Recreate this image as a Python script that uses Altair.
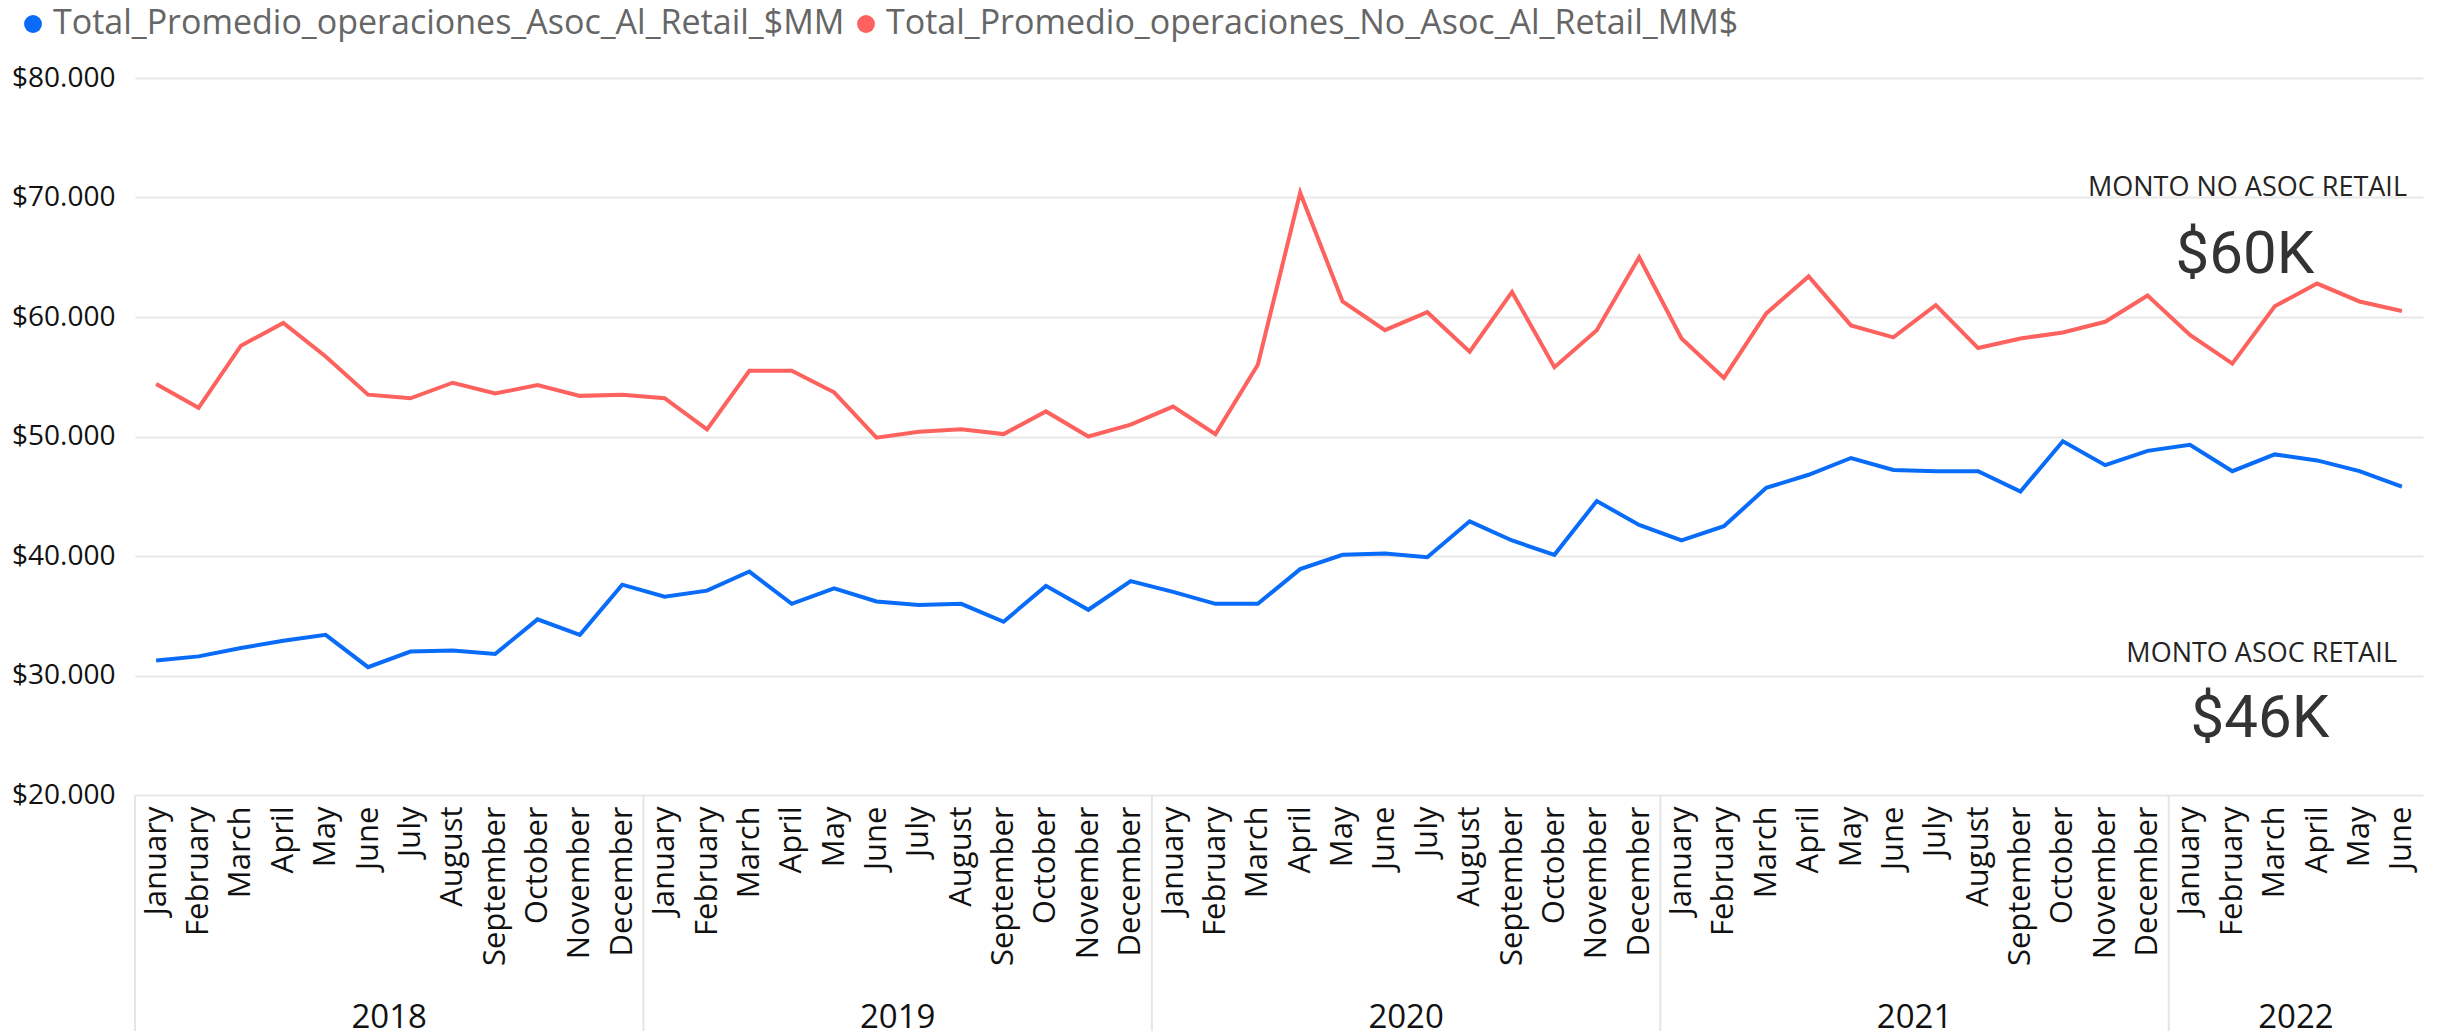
import altair as alt
import pandas as pd

# ---------------- data ----------------
MONTHS = ["January", "February", "March", "April", "May", "June", "July",
          "August", "September", "October", "November", "December"]
YEARS = [2018, 2019, 2020, 2021, 2022]
MONTHS_PER_YEAR = [12, 12, 12, 12, 6]

SERIES_ASOC = "Total_Promedio_operaciones_Asoc_Al_Retail_$MM"
SERIES_NO_ASOC = "Total_Promedio_operaciones_No_Asoc_Al_Retail_MM$"

asoc = [31250, 31600, 32300, 32900, 33400, 30700, 32000, 32100, 31800, 34700, 33400, 37600,
        36600, 37100, 38700, 36000, 37300, 36200, 35900, 36000, 34500, 37500, 35500, 37900,
        37000, 36000, 36000, 38900, 40100, 40200, 39900, 42900, 41300, 40100, 44600, 42600,
        41300, 42500, 45700, 46800, 48200, 47200, 47100, 47100, 45400, 49600, 47600, 48800,
        49300, 47100, 48500, 48000, 47100, 45800]

no_asoc = [54400, 52400, 57600, 59500, 56700, 53500, 53200, 54500, 53600, 54300, 53400, 53500,
           53200, 50600, 55500, 55500, 53700, 49900, 50400, 50600, 50200, 52100, 50000, 51000,
           52500, 50200, 56000, 70400, 61300, 58900, 60400, 57100, 62100, 55800, 58900, 65000,
           58200, 54900, 60300, 63400, 59300, 58300, 61000, 57400, 58200, 58700, 59600, 61800,
           58500, 56100, 60900, 62800, 61300, 60500]

Y_TICKS = [20000, 30000, 40000, 50000, 60000, 70000, 80000]

CARD_TITLES = ["MONTO NO ASOC RETAIL", "MONTO ASOC RETAIL"]
CARD_VALUES = ["$60K", "$46K"]

COLORS = ["#086CF8", "#FD625E"]

# ---------------- build tables ----------------
rows = []
idx = 0
year_rows = []
sep_rows = []
for y, n in zip(YEARS, MONTHS_PER_YEAR):
    start = idx
    sep_rows.append({"pos": start - 0.5})
    for m in range(n):
        rows.append({"idx": idx, "month": MONTHS[m], "year": y,
                     "series": SERIES_ASOC, "value": asoc[idx]})
        rows.append({"idx": idx, "month": MONTHS[m], "year": y,
                     "series": SERIES_NO_ASOC, "value": no_asoc[idx]})
        idx += 1
    year_rows.append({"year": str(y), "center": (start + idx - 1) / 2})
N = idx

df = pd.DataFrame(rows)
df["legend_series"] = df["series"]
years_df = pd.DataFrame(year_rows)
sep_df = pd.DataFrame(sep_rows)

W, H = 2288, 717
FONT = "Open Sans"

month_expr = "[" + ",".join("'%s'" % m for m in MONTHS) + "][datum.value % 12]"

x_scale = alt.Scale(domain=[-0.5, N - 0.5], nice=False, zero=False)
y_scale = alt.Scale(domain=[20000, 80000], nice=False, zero=False)
color_scale = alt.Scale(domain=[SERIES_ASOC, SERIES_NO_ASOC], range=COLORS)
# data-driven domain (alphabetical order = same order as above)
fill_scale = alt.Scale(range=COLORS)

x_enc = alt.X("idx:Q", scale=x_scale, title=None,
              axis=alt.Axis(values=list(range(N)), labelExpr=month_expr,
                            labelAngle=270, labelFontSize=31, labelFont=FONT,
                            labelColor="#111111", labelPadding=11,
                            labelOverlap=False, labelFlush=False, labelBound=False,
                            ticks=False, domain=False, grid=False))
y_enc = alt.Y("value:Q", scale=y_scale, title=None,
              axis=alt.Axis(values=Y_TICKS,
                            labelExpr="'$' + replace(format(datum.value, ',.0f'), ',', '.')",
                            labelFontSize=28, labelFont=FONT, labelColor="#111111",
                            labelPadding=20, ticks=False, domain=False,
                            grid=True, gridColor="#e8e8e8", gridWidth=2))

base = alt.Chart(df)

lines = base.mark_line(strokeWidth=4).encode(
    x=x_enc, y=y_enc,
    color=alt.Color("series:N", scale=color_scale, legend=None),
    order="idx:Q",
)

legend_pts = base.mark_circle(size=1, opacity=1).encode(
    x=alt.X("idx:Q", scale=x_scale),
    y=alt.Y("value:Q", scale=y_scale),
    fill=alt.Fill("legend_series:N", scale=fill_scale, title=None,
                  legend=alt.Legend(orient="none", legendX=-119, legendY=-71,
                                    direction="horizontal", symbolType="circle",
                                    symbolSize=320, symbolOpacity=1,
                                    symbolStrokeWidth=0,
                                    labelFont=FONT, labelFontSize=34,
                                    labelColor="#666666", labelLimit=3000,
                                    labelOffset=3, columnPadding=4, padding=0)),
)

years_layer = alt.Chart(years_df).mark_text(
    font=FONT, fontSize=33, color="#111111", align="center", baseline="alphabetic"
).encode(
    x=alt.X("center:Q", scale=x_scale),
    y=alt.value(H + 233),
    text="year:N",
)

seps = alt.Chart(sep_df).mark_rule(color="#e5e5e5", strokeWidth=2).encode(
    x=alt.X("pos:Q", scale=x_scale),
    y=alt.value(H),
    y2=alt.value(H + 250),
)

cards_df = pd.DataFrame({"title": CARD_TITLES, "value": CARD_VALUES,
                         "tx": [2272, 2262], "ty": [118, 584],
                         "vx": [2110, 2125], "vy": [195, 659]})

card_titles = alt.Chart(cards_df).mark_text(
    font=FONT, fontSize=27, color="#252423", align="right", baseline="alphabetic"
).encode(x=alt.X("tx:Q", scale=None), y=alt.Y("ty:Q", scale=None), text="title:N")

card_values = alt.Chart(cards_df).mark_text(
    font="Roboto", fontSize=60, color="#333333", align="center", baseline="alphabetic"
).encode(x=alt.X("vx:Q", scale=None), y=alt.Y("vy:Q", scale=None), text="value:N")

chart = alt.layer(lines, seps, legend_pts, years_layer, card_titles, card_values).properties(
    width=W, height=H,
    autosize=alt.AutoSizeParams(type="none"),
    padding={"left": 127, "top": 70, "right": 12, "bottom": 236},
).configure(font=FONT).configure_view(stroke=None)

chart.save("out.html", embed_options={"renderer": "svg", "actions": False})
